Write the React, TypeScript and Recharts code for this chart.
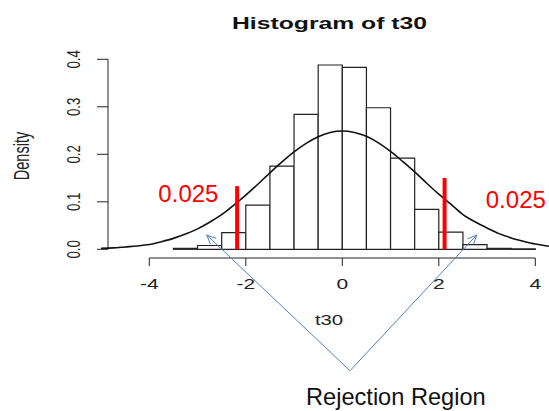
import { ComposedChart, Line, ReferenceArea, ReferenceDot, ReferenceLine, XAxis, YAxis } from 'recharts'

// histogram of t30 (breaks every 0.5 from -3.5 to 4)
const binStart = [-3.5, -3, -2.5, -2, -1.5, -1, -0.5, 0, 0.5, 1, 1.5, 2, 2.5, 3, 3.5]
const binDensity = [0.002, 0.008, 0.035, 0.093, 0.175, 0.284, 0.388, 0.383, 0.298, 0.192, 0.084, 0.036, 0.01, 0.002, 0.0008]
const binWidth = 0.5

// overlaid density curve
const curveX = [
  -5, -4.75, -4.5, -4.25, -4, -3.75, -3.5, -3.25, -3, -2.75, -2.5, -2.25, -2, -1.75, -1.5, -1.25, -1, -0.75, -0.5, -0.25,
  0, 0.25, 0.5, 0.75, 1, 1.25, 1.5, 1.75, 2, 2.25, 2.5, 2.75, 3, 3.25, 3.5, 3.75, 4, 4.25, 4.28,
]
const curveY = [
  0.002, 0.003, 0.005, 0.007, 0.01, 0.016, 0.023, 0.032, 0.043, 0.057, 0.073, 0.093, 0.114, 0.137, 0.161, 0.184, 0.205, 0.223, 0.237, 0.246,
  0.249, 0.246, 0.238, 0.224, 0.206, 0.185, 0.163, 0.139, 0.116, 0.095, 0.073, 0.058, 0.045, 0.033, 0.024, 0.017, 0.011, 0.007, 0.0065,
]

// critical values (red bars) and their heights
const critX = [-2.18, 2.12]
const critTop = [0.133, 0.15]
const tailLabel = '0.025'

const xTicks = [-4, -2, 0, 2, 4]
const yTicks = [0, 0.1, 0.2, 0.3, 0.4]

const X_DOMAIN: [number, number] = [-5.022, 4.284]
const Y_DOMAIN: [number, number] = [-0.0183, 0.4406]
const Y_AXIS_AT = -4.856

// annotation anchors (data units)
const arrowApex = { x: 0.16, y: -0.2556 }
const arrowTips = [
  { x: -2.81, y: 0.0301 },
  { x: 2.786, y: 0.0301 },
]
const tailLabelPos = [
  { x: -3.19, y: 0.1 },
  { x: 3.596, y: 0.086 },
]

const FONT = '"Liberation Sans", Arial, sans-serif'
const INK = '#222'
const ARROW = '#4f81bd'

const curve = curveX.map((x, i) => ({ x, d: curveY[i] }))

function XTick(props: any) {
  const { x, y, payload } = props
  return (
    <g>
      <line x1={x} x2={x} y1={y - 8} y2={y} stroke={INK} strokeWidth={1} />
      <text
        transform={`translate(${x},${y + 23}) scale(1.5,1)`}
        textAnchor="middle"
        fontFamily={FONT}
        fontSize={14}
        fill={INK}
      >
        {payload.value}
      </text>
    </g>
  )
}

function YTick(props: any) {
  const { y, payload } = props
  return (
    <g>
      <line x1={97} x2={108} y1={y} y2={y} stroke={INK} strokeWidth={1} />
      <text
        transform={`translate(80,${y}) scale(1.45,1) rotate(-90)`}
        textAnchor="middle"
        fontFamily={FONT}
        fontSize={13.3}
        fill={INK}
      >
        {Number(payload.value).toFixed(1)}
      </text>
    </g>
  )
}

function arrowShape(props: any) {
  const { x1, y1, x2, y2 } = props
  const ang = Math.atan2(y2 - y1, x2 - x1)
  const len = 10
  const spread = 0.42
  const ax = x2 - len * Math.cos(ang - spread)
  const ay = y2 - len * Math.sin(ang - spread)
  const bx = x2 - len * Math.cos(ang + spread)
  const by = y2 - len * Math.sin(ang + spread)
  return (
    <g>
      <line x1={x1} y1={y1} x2={x2} y2={y2} stroke={ARROW} strokeWidth={1} />
      <polyline points={`${ax},${ay} ${x2},${y2} ${bx},${by}`} fill="none" stroke={ARROW} strokeWidth={1} />
    </g>
  )
}

export default function App() {
  return (
    <div style={{ position: 'absolute', left: 0, top: 0, width: 549, height: 411, background: '#fff' }}>
      <ComposedChart width={549} height={411} data={curve} margin={{ top: 40, right: 0, bottom: 123, left: 0 }}>
        <text
          x={329.5}
          y={29}
          textAnchor="middle"
          fontFamily={FONT}
          fontWeight="bold"
          fontSize={17}
          textLength={195}
          lengthAdjust="spacingAndGlyphs"
          fill="#111"
        >
          Histogram of t30
        </text>
        <text
          transform="translate(29,156) scale(1.5,1) rotate(-90)"
          textAnchor="middle"
          fontFamily={FONT}
          fontSize={14.5}
          fill={INK}
        >
          Density
        </text>
        <text
          transform="translate(329,325) scale(1.45,1)"
          textAnchor="middle"
          fontFamily={FONT}
          fontSize={14}
          fill={INK}
        >
          t30
        </text>
        <text x={306} y={405} fontFamily={FONT} fontSize={23.6} fill="#111">
          Rejection Region
        </text>

        <XAxis
          type="number"
          dataKey="x"
          domain={X_DOMAIN}
          ticks={xTicks}
          interval={0}
          minTickGap={0}
          height={30}
          axisLine={false}
          tickSize={8}
          tickMargin={0}
          tickLine={false}
          tick={<XTick />}
        />
        <YAxis
          type="number"
          domain={Y_DOMAIN}
          allowDataOverflow
          ticks={yTicks}
          interval={0}
          width={100}
          axisLine={false}
          tickLine={false}
          tick={<YTick />}
        />

        <ReferenceLine
          segment={[
            { x: xTicks[0], y: Y_DOMAIN[0] },
            { x: xTicks[xTicks.length - 1], y: Y_DOMAIN[0] },
          ]}
          stroke={INK}
          strokeWidth={1}
          ifOverflow="visible"
        />
        <ReferenceLine
          segment={[
            { x: Y_AXIS_AT, y: yTicks[0] },
            { x: Y_AXIS_AT, y: yTicks[yTicks.length - 1] },
          ]}
          stroke={INK}
          strokeWidth={1}
          ifOverflow="visible"
        />

        {binStart.map((b, i) => (
          <ReferenceArea
            key={b}
            x1={b}
            x2={b + binWidth}
            y1={0}
            y2={binDensity[i]}
            fill="#fff"
            fillOpacity={1}
            stroke={INK}
            strokeWidth={1.2}
            ifOverflow="visible"
          />
        ))}

        <Line
          type="monotone"
          dataKey="d"
          stroke="#111"
          strokeWidth={1.6}
          dot={false}
          activeDot={false}
          isAnimationActive={false}
        />

        {critX.map((c, i) => (
          <ReferenceLine
            key={c}
            segment={[
              { x: c, y: 0 },
              { x: c, y: critTop[i] },
            ]}
            stroke="#ff0000"
            strokeWidth={4}
            ifOverflow="visible"
          />
        ))}

        {arrowTips.map((t, i) => (
          <ReferenceLine key={i} segment={[arrowApex, t]} ifOverflow="visible" shape={arrowShape} />
        ))}

        {tailLabelPos.map((p, i) => (
          <ReferenceDot
            key={i}
            x={p.x}
            y={p.y}
            r={0}
            ifOverflow="visible"
            shape={(s: any) => (
              <text x={s.cx} y={s.cy} textAnchor="middle" fontFamily={FONT} fontSize={24} fill="#ff0000">
                {tailLabel}
              </text>
            )}
          />
        ))}
      </ComposedChart>
    </div>
  )
}
